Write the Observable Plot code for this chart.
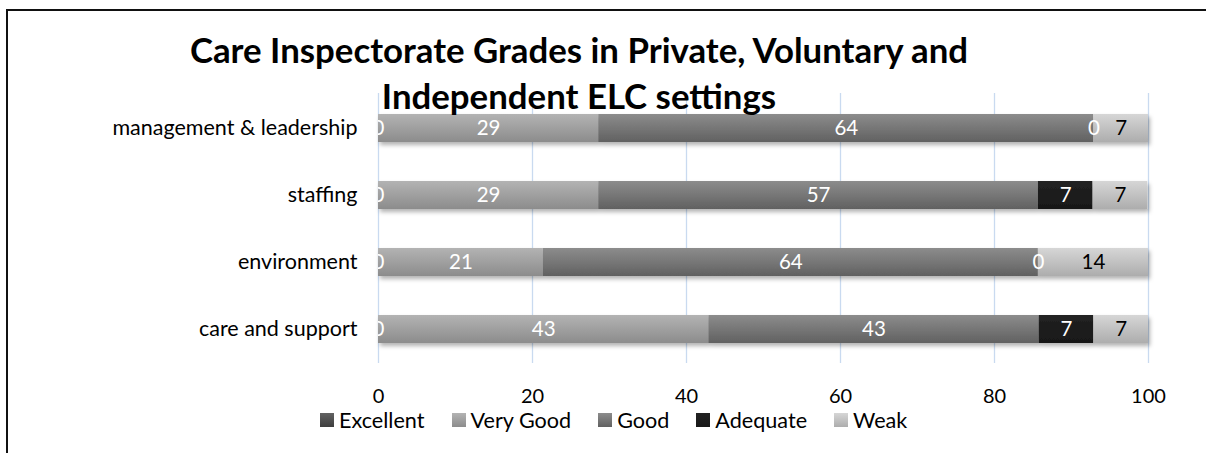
<!DOCTYPE html>
<html>
<head>
<meta charset="utf-8">
<script src="https://cdn.jsdelivr.net/npm/d3@7"></script>
<script src="https://cdn.jsdelivr.net/npm/@observablehq/plot@0.6"></script>
<style>
  html, body { margin: 0; padding: 0; background: #fff; overflow: hidden; width: 1206px; height: 453px; }
  #wrap { position: relative; width: 1206px; height: 453px; overflow: hidden; font-family: Lato, "Noto Sans", sans-serif; }
  #framesvg { position: absolute; left: 0; top: 0; }
  #chart { position: absolute; left: 0; top: 0; }
  #title { position: absolute; left: 79px; top: 26.5px; width: 1000px; text-align: center; font-weight: bold; font-size: 34.8px; line-height: 46px; color: #000; z-index: 2; white-space: nowrap; }
  #legend { position: absolute; left: 320px; top: 407.5px; display: flex; gap: 27px; font-size: 21.6px; line-height: 25.9px; color: #000; }
  .item { display: flex; align-items: center; }
  .sw { width: 14px; height: 14px; margin-right: 5px; }
</style>
</head>
<body>
<div id="wrap">
  <svg id="framesvg" width="1206" height="453"><path d="M7,453V10H1230" fill="none" stroke="#111" stroke-width="2"/></svg>
  <div id="chart"></div>
  <div id="title"></div>
  <div id="legend"></div>
</div>
<script>
const titleLines = ["Care Inspectorate Grades in Private, Voluntary and", "Independent ELC settings"];
const categories = ["management & leadership", "staffing", "environment", "care and support"];
const grades = ["Excellent", "Very Good", "Good", "Adequate", "Weak"];
const excellent = [0, 0, 0, 0];
const veryGood = [28.6, 28.6, 21.4, 42.9];
const good = [64.3, 57.1, 64.3, 42.9];
const adequate = [0, 7.1, 0, 7.1];
const weak = [7.1, 7.1, 14.3, 7.1];
const xTicks = [0, 20, 40, 60, 80, 100];

const seriesValues = [excellent, veryGood, good, adequate, weak];
const gradeTop = ["#626262", "#b3b3b3", "#8c8c8c", "#222222", "#d6d6d6"];
const gradeBottom = ["#3e3e3e", "#8c8c8c", "#616161", "#181818", "#adadad"];
const labelColor = ["#fff", "#fff", "#fff", "#fff", "#000"];

const rows = [];
grades.forEach((g, gi) => {
  categories.forEach((c, ci) => {
    rows.push({grade: g, gi, category: c, value: seriesValues[gi][ci]});
  });
});

const plot = Plot.plot({
  width: 1206,
  height: 453,
  marginLeft: 378,
  marginRight: 58,
  marginTop: 93,
  marginBottom: 90,
  style: {fontFamily: "Lato, 'Noto Sans', sans-serif", fontSize: "19.5px", color: "#000", background: "transparent"},
  x: {domain: [0, 100]},
  y: {domain: categories, paddingInner: 0.585, paddingOuter: 0.2925},
  marks: [
    Plot.gridX(xTicks, {stroke: "#c9daf0", strokeOpacity: 1, strokeWidth: 1.3}),
    Plot.barX(rows, Plot.stackX({
      x: "value", y: "category", z: "grade",
      fill: d => `url(#grad${d.gi})`
    })),
    Plot.text(rows, Plot.stackX({
      x: "value", y: "category", z: "grade",
      text: d => String(Math.round(d.value)),
      fill: d => labelColor[d.gi],
      fontSize: 20.5,
      clip: true
    })),
    Plot.axisX(xTicks, {tickSize: 0, tickPadding: 25, fontSize: 20, tickFormat: d => String(d), label: null}),
    Plot.axisY({tickSize: 0, tickPadding: 21, fontSize: 21.5, label: null})
  ]
});

const ns = "http://www.w3.org/2000/svg";
const defs = document.createElementNS(ns, "defs");
let html = "";
grades.forEach((g, i) => {
  html += `<linearGradient id="grad${i}" x1="0" y1="0" x2="0" y2="1">
    <stop offset="0" stop-color="${gradeTop[i]}"/>
    <stop offset="1" stop-color="${gradeBottom[i]}"/>
  </linearGradient>`;
});
html += `<filter id="shadow" x="-5%" y="-20%" width="110%" height="160%">
  <feDropShadow dx="2" dy="3" stdDeviation="2" flood-color="#000" flood-opacity="0.3"/>
</filter>`;
defs.innerHTML = html;
plot.insertBefore(defs, plot.firstChild);
const barG = plot.querySelector('g[aria-label="bar"]');
if (barG) barG.setAttribute("filter", "url(#shadow)");

document.getElementById("chart").appendChild(plot);

const t = document.getElementById("title");
titleLines.forEach(line => { const d = document.createElement("div"); d.textContent = line; t.appendChild(d); });

const lg = document.getElementById("legend");
grades.forEach((g, i) => {
  const it = document.createElement("div");
  it.className = "item";
  const sw = document.createElement("div");
  sw.className = "sw";
  sw.style.background = `linear-gradient(to bottom, ${gradeTop[i]}, ${gradeBottom[i]})`;
  const tx = document.createElement("span");
  tx.textContent = g;
  it.appendChild(sw); it.appendChild(tx);
  lg.appendChild(it);
});
</script>
</body>
</html>
